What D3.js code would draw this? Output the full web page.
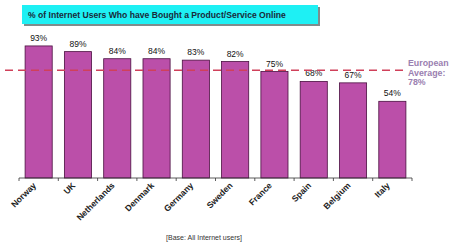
<!DOCTYPE html>
<html>
<head>
<meta charset="utf-8">
<script src="https://cdn.jsdelivr.net/npm/d3@7"></script>
<style>
  body { margin: 0; background: #fff; }
  svg { display: block; font-family: Arial, "Liberation Sans", sans-serif; }
</style>
</head>
<body>
<svg width="453" height="249"></svg>
<script>
// chart data
const countries = ["Norway", "UK", "Netherlands", "Denmark", "Germany", "Sweden", "France", "Spain", "Belgium", "Italy"]
const shares = [93, 89, 84, 84, 83, 82, 75, 68, 67, 54]
const europeanAverage = 78
const averageLines = ["European", "Average:", "78%"]

const svg = d3.select("svg")

// plot area
const left = 19, right = 412, baseY = 178

const x = d3.scaleBand().domain(countries).range([left, right]).paddingInner(0.31).paddingOuter(0.155)
const y = d3.scaleLinear().domain([0, 100]).range([baseY, baseY - 142])

// title box with shadow
svg.append("rect").attr("x", 24).attr("y", 7).attr("width", 296).attr("height", 19).attr("fill", "#7f8c8c")
svg.append("rect").attr("x", 22).attr("y", 5).attr("width", 296).attr("height", 19).attr("fill", "#1ef0f4")
svg.append("text")
  .attr("x", 28).attr("y", 18)
  .attr("font-size", 8.6).attr("font-weight", "bold").attr("fill", "#1a2a3a")
  .text("% of Internet Users Who have Bought a Product/Service Online")

// bars
svg.selectAll("rect.bar")
  .data(countries)
  .enter()
  .append("rect")
  .attr("class", "bar")
  .attr("x", d => x(d))
  .attr("y", (d, i) => y(shares[i]))
  .attr("width", x.bandwidth())
  .attr("height", (d, i) => baseY - y(shares[i]))
  .attr("fill", "#bb4fa9")
  .attr("stroke", "#4a1040")
  .attr("stroke-width", 0.8)

// value labels
svg.selectAll("text.val")
  .data(countries)
  .enter()
  .append("text")
  .attr("class", "val")
  .attr("x", d => x(d) + x.bandwidth() / 2)
  .attr("y", (d, i) => y(shares[i]) - 5)
  .attr("text-anchor", "middle")
  .attr("font-size", 8.5)
  .attr("fill", "#111")
  .text((d, i) => shares[i] + "%")

// x axis
const axis = svg.append("g").attr("transform", `translate(0,${baseY})`)
axis.append("line").attr("x1", left).attr("x2", right).attr("stroke", "#333").attr("stroke-width", 0.8)
const tickPos = countries.map(d => x(d) - x.step() * x.paddingInner() / 2).concat([right])
axis.selectAll("line.tick")
  .data(tickPos)
  .enter()
  .append("line")
  .attr("x1", d => d).attr("x2", d => d)
  .attr("y1", 0).attr("y2", 3)
  .attr("stroke", "#333").attr("stroke-width", 0.8)

// rotated country labels
svg.selectAll("text.cat")
  .data(countries)
  .enter()
  .append("text")
  .attr("class", "cat")
  .attr("transform", d => `translate(${x(d) + x.bandwidth() / 2 - 2},${baseY + 8}) rotate(-45)`)
  .attr("text-anchor", "end")
  .attr("font-size", 8.6)
  .attr("font-weight", "bold")
  .attr("fill", "#222")
  .text(d => d)

// european average line
svg.append("line")
  .attr("x1", 5).attr("x2", 405)
  .attr("y1", y(europeanAverage) + 3).attr("y2", y(europeanAverage) + 3)
  .attr("stroke", "#d0405a")
  .attr("stroke-width", 1.5)
  .attr("stroke-dasharray", "8,5")

svg.selectAll("text.avg")
  .data(averageLines)
  .enter()
  .append("text")
  .attr("class", "avg")
  .attr("x", 408)
  .attr("y", (d, i) => 66 + i * 9.6)
  .attr("font-size", 8.8)
  .attr("font-weight", "bold")
  .attr("fill", "#9a80b0")
  .text(d => d)

// footnote
svg.append("text")
  .attr("x", 204).attr("y", 240)
  .attr("text-anchor", "middle")
  .attr("font-size", 7)
  .attr("font-family", "'Liberation Sans Narrow', Arial, sans-serif")
  .attr("fill", "#333")
  .text("[Base: All Internet users]")
</script>
</body>
</html>
